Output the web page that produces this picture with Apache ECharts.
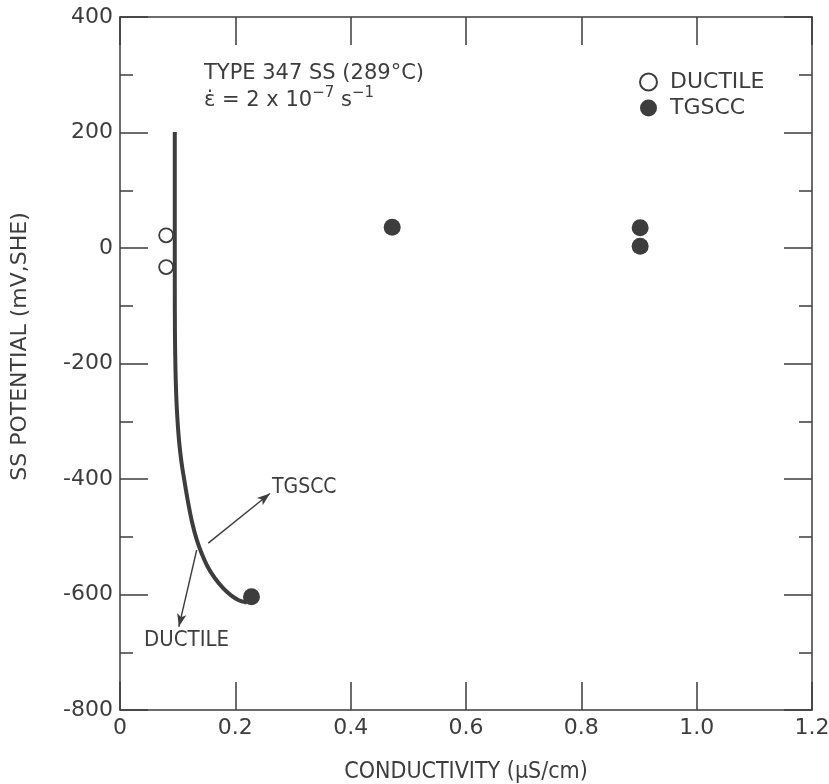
<!DOCTYPE html>
<html><head><meta charset="utf-8">
<script src="https://cdn.jsdelivr.net/npm/echarts@6/dist/echarts.min.js"></script>
<style>html,body{margin:0;padding:0;background:#fff}#c{width:829px;height:784px}</style>
</head><body><div id="c"></div>
<script>
// Data
const ductileX = [0.08, 0.08];
const ductileY = [22, -33];
const tgsccX = [0.228, 0.472, 0.902, 0.902];
const tgsccY = [-604, 36, 35, 3];
const curveX = [0.095, 0.095, 0.0953, 0.0962, 0.0975, 0.0995, 0.1025, 0.1065, 0.112, 0.118, 0.125, 0.133, 0.142, 0.152, 0.164, 0.178, 0.192, 0.206, 0.220];
const curveY = [201, -60, -150, -210, -255, -295, -335, -370, -405, -440, -475, -505, -530, -552, -571, -588, -601, -610, -614];
const arrowTgscc = [[0.153, -511], [0.260, -425]];
const arrowDuctile = [[0.133, -523], [0.102, -656]];
const xTicks = [0, 0.2, 0.4, 0.6, 0.8, 1.0, 1.2];
const yTicks = [-800, -600, -400, -200, 0, 200, 400];

const ink = '#3d3d3d';
const zip = (a, b) => a.map((v, i) => [v, b[i]]);
const font = 'DejaVu Sans';
const fontC = 'DejaVu Sans Condensed';

const chart = echarts.init(document.getElementById('c'));
const xBase = {
  type: 'value', min: xTicks[0], max: xTicks[xTicks.length - 1], interval: 0.2,
  axisLine: { onZero: false, lineStyle: { color: ink, width: 1.5 } },
  axisTick: { inside: true, length: 28, lineStyle: { color: ink, width: 1.5 } },
  splitLine: { show: false }
};
const yBase = {
  type: 'value', min: yTicks[0], max: yTicks[yTicks.length - 1], interval: 200,
  axisLine: { onZero: false, lineStyle: { color: ink, width: 1.5 } },
  axisTick: { inside: true, length: 28, lineStyle: { color: ink, width: 1.5 } },
  minorTick: { show: true, splitNumber: 2, length: 13, lineStyle: { color: ink, width: 1.5 } },
  splitLine: { show: false }
};
chart.setOption({
  animation: false,
  backgroundColor: '#fff',
  grid: { left: 120, right: 17, top: 17, bottom: 74, containLabel: false, outerBoundsMode: 'none' },
  xAxis: [
    Object.assign({}, xBase, {
      position: 'bottom',
      name: 'CONDUCTIVITY (μS/cm)', nameLocation: 'middle', nameGap: 51,
      nameTextStyle: { color: ink, fontSize: 23, fontFamily: fontC },
      axisLabel: { color: ink, fontSize: 22, fontFamily: font, margin: 7,
        formatter: v => v === 0 ? '0' : v.toFixed(1) }
    }),
    Object.assign({}, xBase, { position: 'top', axisLabel: { show: false } })
  ],
  yAxis: [
    Object.assign({}, yBase, {
      position: 'left',
      name: 'SS POTENTIAL (mV,SHE)', nameLocation: 'middle', nameGap: 89, nameRotate: 90,
      nameTextStyle: { color: ink, fontSize: 22, fontFamily: font, padding: [0, 0, 0, 34] },
      axisLabel: { color: ink, fontSize: 22, fontFamily: font, margin: 7 }
    }),
    Object.assign({}, yBase, { position: 'right', axisLabel: { show: false } })
  ],
  legend: {
    orient: 'vertical', left: 634, top: 66, itemGap: 4, itemWidth: 17, itemHeight: 17,
    textStyle: { color: ink, fontSize: 22, fontFamily: font, padding: [0, 0, 0, 8] },
    data: ['DUCTILE', 'TGSCC']
  },
  graphic: [
    { type: 'text', left: 204, top: 63, style: { text: 'TYPE 347 SS (289°C)', fill: ink, font: '21px DejaVu Sans' } },
    { type: 'text', left: 204, top: 86, style: {
        text: '{b|ε̇ = 2 x 10}{s|−7}{b| s}{s|−1}',
        rich: { b: { fill: ink, fontSize: 21, fontFamily: font, verticalAlign: 'bottom' },
                s: { fill: ink, fontSize: 15, fontFamily: font, verticalAlign: 'top', padding: [0, 0, 10, 0] } } } },
    { type: 'text', left: 272, top: 477, style: { text: 'TGSCC', fill: ink, font: '21px DejaVu Sans Condensed' } },
    { type: 'text', left: 144, top: 629, style: { text: 'DUCTILE', fill: ink, font: '22px DejaVu Sans Condensed' } }
  ],
  series: [
    {
      name: 'curve', type: 'line', data: zip(curveX, curveY), smooth: 0.3, showSymbol: false,
      lineStyle: { color: ink, width: 4 }, silent: true,
      markLine: {
        silent: true, symbol: ['none', 'arrow'], symbolSize: [7, 13],
        lineStyle: { color: ink, width: 1.4, type: 'solid' }, label: { show: false },
        data: [
          [{ coord: arrowTgscc[0] }, { coord: arrowTgscc[1] }],
          [{ coord: arrowDuctile[0] }, { coord: arrowDuctile[1] }]
        ]
      }
    },
    {
      name: 'DUCTILE', type: 'scatter', data: zip(ductileX, ductileY), symbol: 'circle', symbolSize: 14,
      itemStyle: { color: '#fff', borderColor: ink, borderWidth: 1.8, opacity: 1 }
    },
    {
      name: 'TGSCC', type: 'scatter', data: zip(tgsccX, tgsccY), symbol: 'circle', symbolSize: 17,
      itemStyle: { color: ink, opacity: 1 }
    }
  ]
});
</script></body></html>
